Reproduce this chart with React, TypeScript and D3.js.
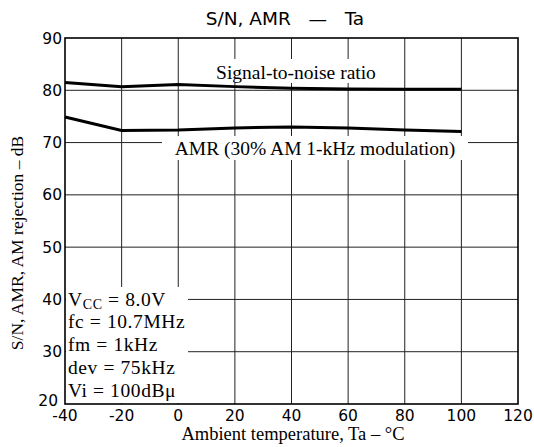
import React from "react";
import * as d3 from "d3";

const temps = [-40, -20, 0, 20, 40, 60, 80, 100];
const snRatio = [81.5, 80.7, 81.1, 80.7, 80.4, 80.25, 80.2, 80.2];
const amr = [74.9, 72.3, 72.4, 72.8, 73.0, 72.8, 72.4, 72.1];
const xTicks = [-40, -20, 0, 20, 40, 60, 80, 100, 120];
const yTicks = [20, 30, 40, 50, 60, 70, 80, 90];
const conditions = ["fc = 10.7MHz", "fm = 1kHz", "dev = 75kHz", "Vi = 100dBμ"];

const W = 534;
const H = 447;
const L = 65, R = 518, T = 38, B = 404;

export default function App() {
  const x = d3.scaleLinear().domain([-40, 120]).range([L, R]);
  const y = d3.scaleLinear().domain([20, 90]).range([B, T]);
  const line = d3
    .line<number>()
    .x((_, i) => x(temps[i]))
    .y((d) => y(d));

  const serif = "'Liberation Serif', 'Times New Roman', serif";
  const sans = "'DejaVu Sans', 'Liberation Sans', sans-serif";

  return (
    <svg
      width={W}
      height={H}
      style={{ position: "absolute", left: 0, top: 0, background: "#fff" }}
    >
      <rect x={0} y={0} width={W} height={H} fill="#fff" />
      {/* grid */}
      {xTicks.slice(1, -1).map((t) => (
        <line key={"gx" + t} x1={x(t)} x2={x(t)} y1={T} y2={B} stroke="#222" strokeWidth={1} />
      ))}
      {yTicks.slice(1, -1).map((t) => (
        <line key={"gy" + t} x1={L} x2={R} y1={y(t)} y2={y(t)} stroke="#222" strokeWidth={1} />
      ))}
      {/* series */}
      <path d={line(snRatio) || ""} fill="none" stroke="#000" strokeWidth={3} />
      <path d={line(amr) || ""} fill="none" stroke="#000" strokeWidth={3} />

      {/* label: Signal-to-noise ratio */}
      <rect x={208} y={59} width={178} height={24} fill="#fff" />
      <text x={296} y={79} textAnchor="middle" fontFamily={serif} fontSize={19.5}>
        Signal-to-noise ratio
      </text>
      {/* label: AMR */}
      <rect x={162} y={136} width={306} height={24} fill="#fff" />
      <text x={315} y={155} textAnchor="middle" fontFamily={serif} fontSize={19.5}>
        AMR (30% AM 1-kHz modulation)
      </text>

      {/* conditions box */}
      <rect x={L + 1} y={287} width={122} height={B - 288} fill="#fff" />
      <text x={68} y={306} fontFamily={serif} fontSize={19.5} letterSpacing={0.6}>
        V<tspan fontSize={14} dy={3}>CC</tspan>
        <tspan dy={-3}> = 8.0V</tspan>
      </text>
      {conditions.map((c, i) => (
        <text key={c} x={68} y={328 + i * 23} fontFamily={serif} fontSize={19.5} letterSpacing={0.6}>
          {c}
        </text>
      ))}

      {/* frame */}
      <rect x={L} y={T} width={R - L} height={B - T} fill="none" stroke="#000" strokeWidth={1.6} />

      {/* y tick labels */}
      {yTicks.map((t) => (
        <text
          key={"yl" + t}
          x={t === 20 ? 58 : 62}
          y={(t === 20 ? y(t) - 4 : y(t)) + 5.5}
          textAnchor="end"
          fontFamily={sans}
          fontSize={15.5}
        >
          {t}
        </text>
      ))}
      {/* x tick labels */}
      {xTicks.map((t) => (
        <text
          key={"xl" + t}
          x={x(t)}
          y={421}
          textAnchor="middle"
          fontFamily={sans}
          fontSize={15.5}
        >
          {t}
        </text>
      ))}

      {/* titles */}
      <text
        x={285}
        y={25}
        textAnchor="middle"
        fontFamily={sans}
        fontSize={18.5}
        style={{ whiteSpace: "pre" }}
      >
        {"S/N, AMR   —   Ta"}
      </text>
      <text x={293} y={440} textAnchor="middle" fontFamily={serif} fontSize={18.5}>
        Ambient temperature, Ta – °C
      </text>
      <text
        transform={`translate(23, ${243}) rotate(-90)`}
        textAnchor="middle"
        fontFamily={serif}
        fontSize={17.5}
      >
        S/N, AMR, AM rejection – dB
      </text>
    </svg>
  );
}
